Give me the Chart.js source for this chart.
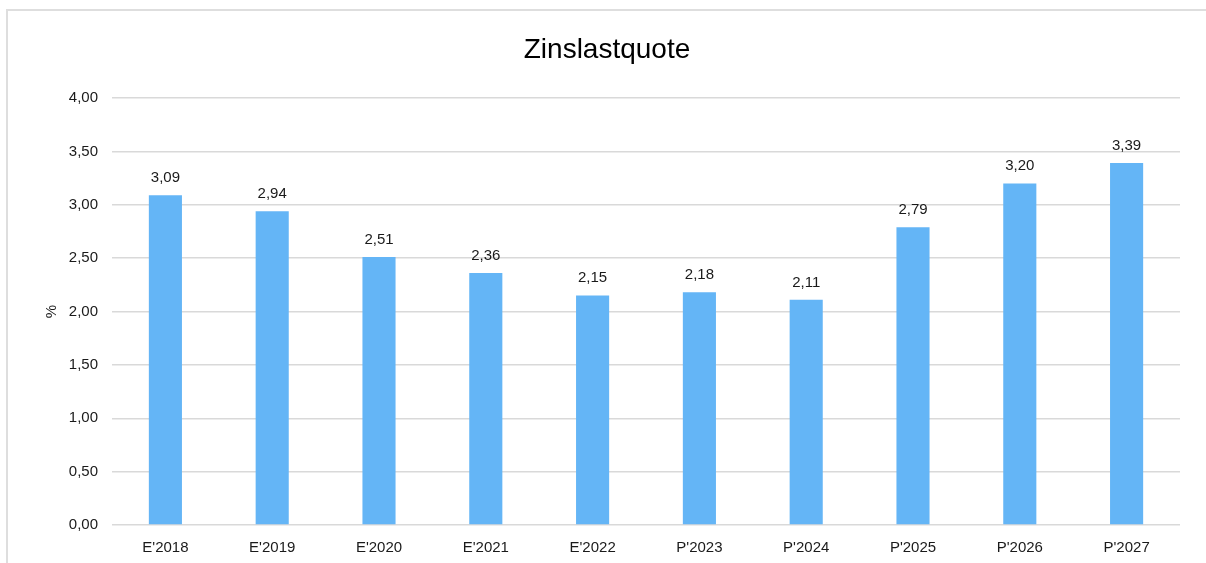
<!DOCTYPE html>
<html>
<head>
<meta charset="utf-8">
<script src="https://cdn.jsdelivr.net/npm/chart.js@4"></script>
<style>
  body { margin: 0; background: #fff; overflow: hidden; }
  #rahmen { position: absolute; left: 6px; top: 9px; width: 1300px; height: 700px; border: 2px solid #dedede; }
  #zinsChart { position: absolute; left: 0; top: 0; }
</style>
</head>
<body>
<div id="rahmen"></div>
<canvas id="zinsChart" width="1206" height="563"></canvas>
<script>
const jahre = ["E'2018", "E'2019", "E'2020", "E'2021", "E'2022", "P'2023", "P'2024", "P'2025", "P'2026", "P'2027"];
const quoten = [3.09, 2.94, 2.51, 2.36, 2.15, 2.18, 2.11, 2.79, 3.20, 3.39];
const titel = 'Zinslastquote';

const schrift = "'Liberation Sans', Arial, sans-serif";
const formatZahl = v => v.toFixed(2).replace('.', ',');

// Titel (mittig über dem Rahmen) und Werte über den Balken
const beschriftung = {
    id: 'beschriftung',
    afterDatasetsDraw(chart) {
        const ctx = chart.ctx;
        ctx.save();
        ctx.fillStyle = '#000';
        ctx.textAlign = 'center';
        ctx.textBaseline = 'alphabetic';
        ctx.font = '28px ' + schrift;
        ctx.fillText(titel, 607, 58);

        ctx.font = '15px ' + schrift;
        ctx.fillStyle = '#1a1a1a';
        chart.getDatasetMeta(0).data.forEach((bar, i) => {
            ctx.fillText(formatZahl(quoten[i]), bar.x, bar.y - 13);
        });
        ctx.restore();
    }
};

new Chart(document.getElementById('zinsChart'), {
    type: 'bar',
    data: {
        labels: jahre,
        datasets: [{
            label: titel,
            data: quoten,
            backgroundColor: '#64b5f6',
            borderWidth: 0,
            barPercentage: 0.31,
            categoryPercentage: 1
        }]
    },
    options: {
        responsive: false,
        animation: false,
        devicePixelRatio: 1,
        layout: { padding: { top: 98, right: 26, bottom: 0, left: 0 } },
        plugins: {
            legend: { display: false },
            tooltip: { enabled: false },
            title: { display: false }
        },
        scales: {
            x: {
                grid: { display: false },
                border: { display: false },
                ticks: { color: '#1a1a1a', font: { family: schrift, size: 15 }, padding: 6, maxRotation: 0 },
                afterFit: scale => { scale.height = 38; }
            },
            y: {
                min: 0,
                max: 4,
                grid: { color: '#d9d9d9', lineWidth: 1.5, drawTicks: false },
                border: { display: false },
                ticks: {
                    stepSize: 0.5,
                    padding: 14,
                    color: '#1a1a1a',
                    font: { family: schrift, size: 15 },
                    callback: v => formatZahl(v)
                },
                title: {
                    display: true,
                    text: '%',
                    color: '#1a1a1a',
                    font: { family: schrift, size: 15 },
                    padding: { top: 43, bottom: 0 }
                },
                afterFit: scale => { scale.width = 112; }
            }
        }
    },
    plugins: [beschriftung]
});
</script>
</body>
</html>
